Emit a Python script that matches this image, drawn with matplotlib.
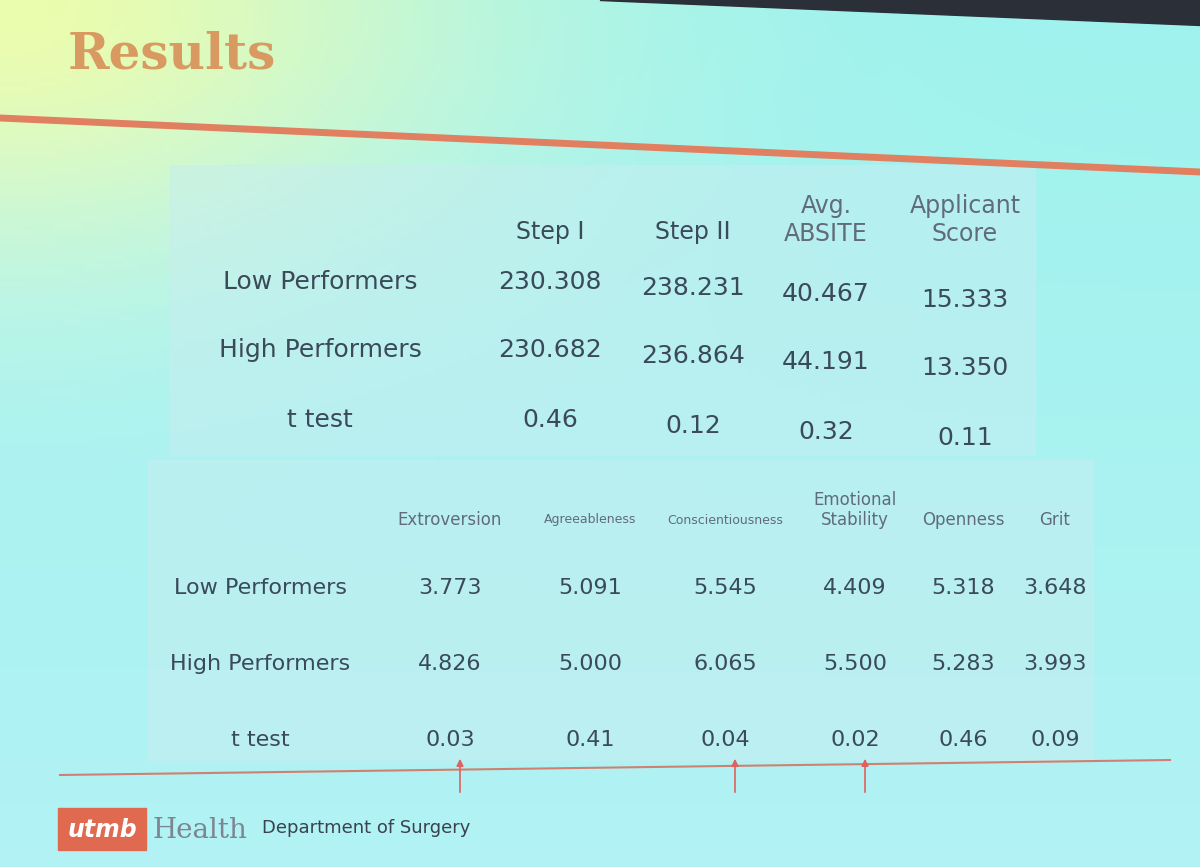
import matplotlib
matplotlib.use("Agg")
import matplotlib.pyplot as plt
import numpy as np

# Data
t1_cols = ["Step I", "Step II", "Avg.\nABSITE", "Applicant\nScore"]
t1_rows = ["Low Performers", "High Performers", "t test"]
t1_low = ["230.308", "238.231", "40.467", "15.333"]
t1_high = ["230.682", "236.864", "44.191", "13.350"]
t1_t = ["0.46", "0.12", "0.32", "0.11"]

t2_cols = ["Extroversion", "Agreeableness", "Conscientiousness", "Emotional\nStability", "Openness", "Grit"]
t2_rows = ["Low Performers", "High Performers", "t test"]
t2_low = ["3.773", "5.091", "5.545", "4.409", "5.318", "3.648"]
t2_high = ["4.826", "5.000", "6.065", "5.500", "5.283", "3.993"]
t2_t = ["0.03", "0.41", "0.04", "0.02", "0.46", "0.09"]
significant = [0, 2, 3]

fig = plt.figure(figsize=(12, 8.67), dpi=100)
ax = fig.add_axes([0, 0, 1, 1])
ax.set_xlim(0, 1200); ax.set_ylim(867, 0); ax.axis("off")

yy, xx = np.mgrid[0:1:200j, 0:1:300j]
r = 0.62 + 0.30 * np.exp(-((xx) ** 2 * 6 + (yy) ** 2 * 10)) + 0.08 * yy
g = 0.95 + 0.04 * np.exp(-((xx) ** 2 * 6 + (yy) ** 2 * 10))
b = 0.93 - 0.25 * np.exp(-((xx) ** 2 * 8 + (yy) ** 2 * 14)) + 0.03 * yy
img = np.clip(np.dstack([r, g, b]), 0, 1)
ax.imshow(img, extent=[0, 1200, 867, 0], aspect="auto", zorder=0)
ax.fill_between([600, 1200], 0, [0, 25], color="#2a2f38", zorder=1)

ax.text(68, 55, "Results", fontsize=36, family="DejaVu Serif", weight="bold",
        color="#d89a60", va="center", zorder=3)
ax.plot([0, 1200], [118, 172], color="#e08060", lw=5, zorder=3)

ax.add_patch(plt.Rectangle((170, 165), 865, 290, color="#c8eef0", alpha=0.5, zorder=2))
ax.add_patch(plt.Rectangle((148, 460), 945, 300, color="#c8eef0", alpha=0.5, zorder=2))

tc = "#3a4a58"
x1 = [550, 693, 826, 965]
for x, c in zip(x1, t1_cols):
    ax.text(x, 232 if "\n" not in c else 220, c, fontsize=17, ha="center", va="center",
            color="#606c78" if "\n" in c else tc, zorder=4)
y1 = [282, 350, 420]
for y, lab, vals in zip(y1, t1_rows, [t1_low, t1_high, t1_t]):
    ax.text(320, y, lab, fontsize=18, ha="center", va="center", color=tc, zorder=4)
    for i, (x, v) in enumerate(zip(x1, vals)):
        ax.text(x, y + i * 6, v, fontsize=18, ha="center", va="center", color=tc, zorder=4)

x2 = [450, 590, 725, 855, 963, 1055]
fs2 = [12, 9, 9, 12, 12, 12]
for x, c, f in zip(x2, t2_cols, fs2):
    ax.text(x, 520 if "\n" not in c else 510, c, fontsize=f, ha="center", va="center", color="#606c78", zorder=4)
y2 = [588, 664, 740]
for y, lab, vals in zip(y2, t2_rows, [t2_low, t2_high, t2_t]):
    ax.text(260, y, lab, fontsize=16, ha="center", va="center", color=tc, zorder=4)
    for x, v in zip(x2, vals):
        ax.text(x, y, v, fontsize=16, ha="center", va="center", color=tc, zorder=4)

ax.plot([60, 1170], [775, 760], color="#d08070", lw=1.5, zorder=4)
for i in significant:
    x = x2[i] + 10
    ax.annotate("", xy=(x, 756), xytext=(x, 795),
                arrowprops=dict(arrowstyle="-|>", color="#e06060", lw=1.2), zorder=5)

ax.add_patch(plt.Rectangle((58, 808), 88, 42, color="#e06a50", zorder=4))
ax.text(102, 830, "utmb", fontsize=17, color="white", ha="center", va="center", style="italic", weight="bold", zorder=5)
ax.text(152, 830, "Health", fontsize=20, color="#7d8590", family="DejaVu Serif", va="center", zorder=5)
ax.text(262, 828, "Department of Surgery", fontsize=13, color="#3a4250", va="center", zorder=5)

fig.savefig("out.png", dpi=100)
